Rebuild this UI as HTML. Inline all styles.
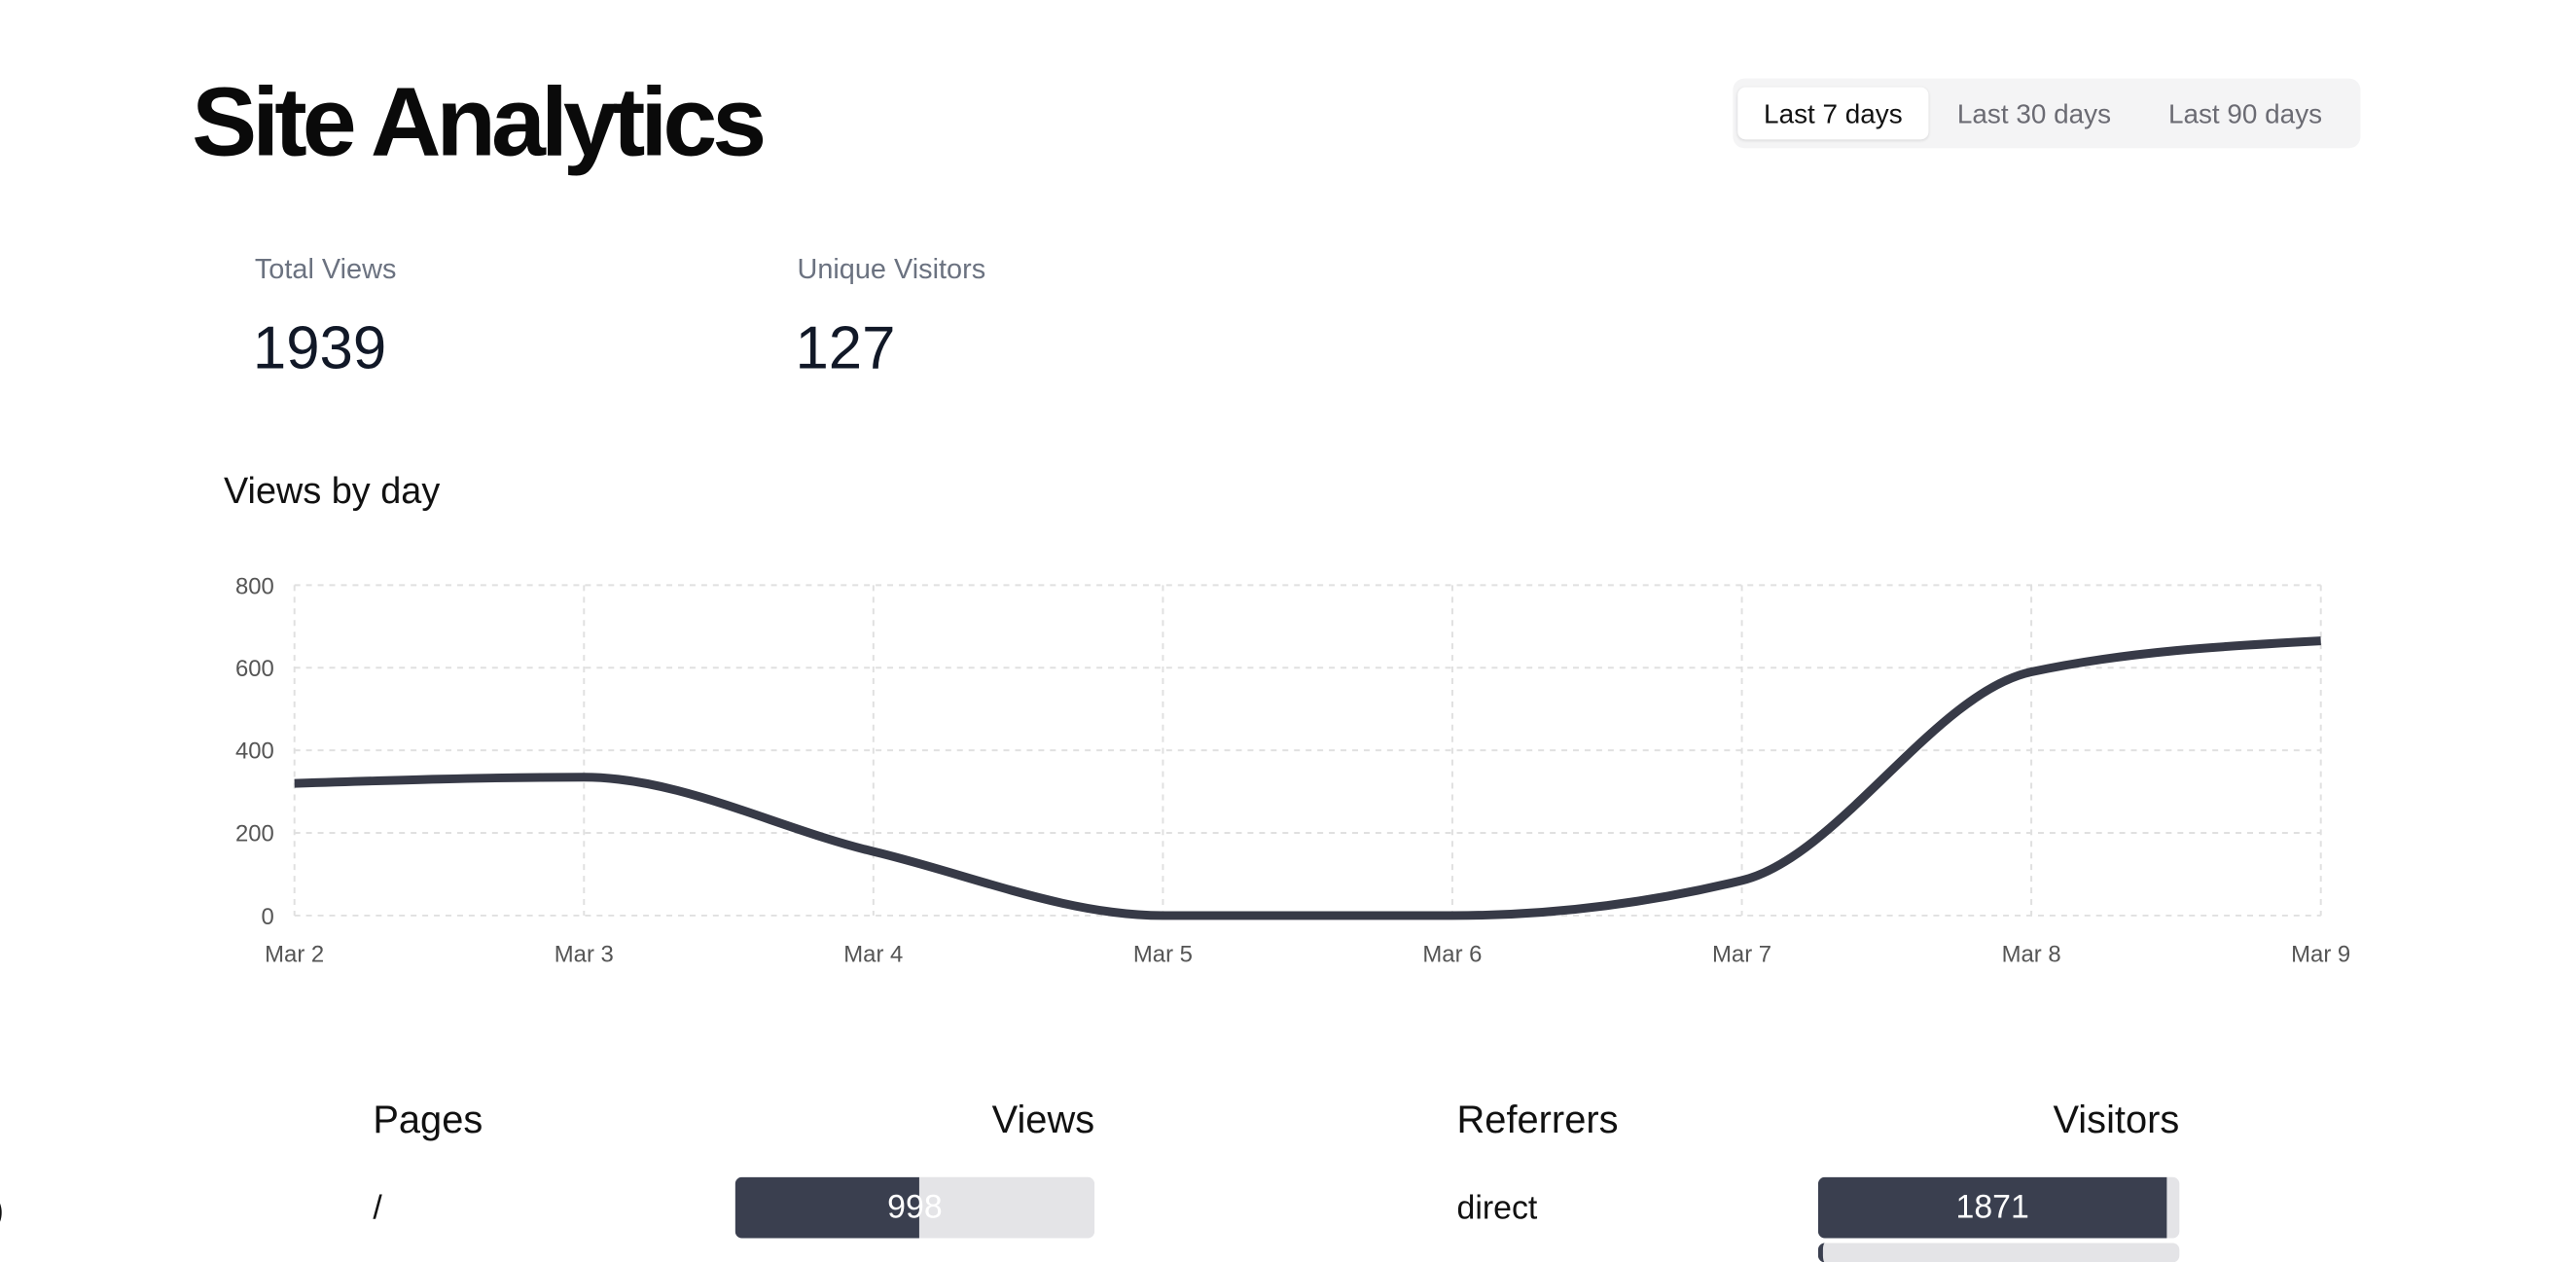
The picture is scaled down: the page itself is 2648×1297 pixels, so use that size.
<!DOCTYPE html>
<html><head><meta charset="utf-8"><style>
*{margin:0;padding:0;box-sizing:border-box}
body{width:2648px;height:1286px;background:#fff;position:relative;overflow:hidden;font-family:"Liberation Sans",Arial,sans-serif}
#w{position:absolute;left:0;top:0;width:2660px;height:1300px;transform:scale(0.9957);transform-origin:0 0}
.a{position:absolute;white-space:nowrap}
</style></head><body><div id="w">
<div class="a" style="left:198px;top:66px;font-size:101px;font-weight:bold;letter-spacing:-5px;color:#0a0a0a;line-height:120px">Site Analytics</div>
<div class="a" style="left:1789px;top:81px;width:648px;height:72px;background:#f4f4f5;border-radius:12px"></div>
<div class="a" style="left:1794px;top:90px;width:197px;height:54px;background:#fff;border-radius:8px;box-shadow:0 1px 3px rgba(0,0,0,.12)"></div>
<div class="a" style="left:1794px;top:91px;width:197px;line-height:54px;text-align:center;font-size:28px;color:#111">Last 7 days</div>
<div class="a" style="left:2000px;top:91px;width:200px;line-height:54px;text-align:center;font-size:28px;color:#6b6b73">Last 30 days</div>
<div class="a" style="left:2218px;top:91px;width:200px;line-height:54px;text-align:center;font-size:28px;color:#6b6b73">Last 90 days</div>
<div class="a" style="left:263px;top:262px;font-size:29px;color:#6b7280">Total Views</div>
<div class="a" style="left:261px;top:324px;font-size:62px;color:#111827">1939</div>
<div class="a" style="left:823px;top:262px;font-size:29px;color:#6b7280">Unique Visitors</div>
<div class="a" style="left:821px;top:324px;font-size:62px;color:#111827">127</div>
<div class="a" style="left:231px;top:486px;font-size:38px;color:#111">Views by day</div>
<svg class="a" style="left:0;top:0" width="2648" height="1286">
<g stroke="#e0e0e0" stroke-width="2" stroke-dasharray="6 6" fill="none">
<line x1="304" y1="604" x2="2396" y2="604"/><line x1="304" y1="689.25" x2="2396" y2="689.25"/><line x1="304" y1="774.5" x2="2396" y2="774.5"/><line x1="304" y1="859.75" x2="2396" y2="859.75"/><line x1="304" y1="945" x2="2396" y2="945"/>
<line x1="304" y1="604" x2="304" y2="945"/><line x1="602.9" y1="604" x2="602.9" y2="945"/><line x1="901.7" y1="604" x2="901.7" y2="945"/><line x1="1200.6" y1="604" x2="1200.6" y2="945"/><line x1="1499.4" y1="604" x2="1499.4" y2="945"/><line x1="1798.3" y1="604" x2="1798.3" y2="945"/><line x1="2097.1" y1="604" x2="2097.1" y2="945"/><line x1="2396" y1="604" x2="2396" y2="945"/>
</g>
<g font-family="Liberation Sans,Arial,sans-serif" font-size="24" fill="#555" text-anchor="end">
<text x="283" y="613">800</text><text x="283" y="698">600</text><text x="283" y="783">400</text><text x="283" y="868">200</text><text x="283" y="954">0</text>
</g>
<g font-family="Liberation Sans,Arial,sans-serif" font-size="24" fill="#555" text-anchor="middle">
<text x="304" y="993">Mar 2</text><text x="602.9" y="993">Mar 3</text><text x="901.7" y="993">Mar 4</text><text x="1200.6" y="993">Mar 5</text><text x="1499.4" y="993">Mar 6</text><text x="1798.3" y="993">Mar 7</text><text x="2097.1" y="993">Mar 8</text><text x="2396" y="993">Mar 9</text>
</g>
<path fill="none" stroke="#373a47" stroke-width="9" d="M304,808.6 C403.6,805.4 503.3,802.2 602.9,802.2 C702.5,802.2 802.1,855.1 901.7,878.9 C1001.3,902.7 1101,945 1200.6,945 C1300.2,945 1399.8,945 1499.4,945 C1599,945 1698.7,933 1798.3,908.8 C1897.9,884.7 1997.5,714.8 2097.1,693.5 C2196.7,672.2 2296.4,666.8 2396,661.5"/>
</svg>
<div class="a" style="left:385px;top:1134px;font-size:40px;color:#111">Pages</div>
<div class="a" style="left:930px;width:200px;text-align:right;top:1134px;font-size:40px;color:#111">Views</div>
<div class="a" style="left:1504px;top:1134px;font-size:40px;color:#111">Referrers</div>
<div class="a" style="left:2050px;width:200px;text-align:right;top:1134px;font-size:40px;color:#111">Visitors</div>
<div class="a" style="left:-8px;top:1228px;font-size:36px;color:#111">)</div>
<div class="a" style="left:385px;top:1228px;font-size:34px;color:#111">/</div>
<div class="a" style="left:759px;top:1215px;width:371px;height:63px;background:#e4e4e7;border-radius:7px;overflow:hidden"><div style="width:190px;height:63px;background:#3a3f4f"></div></div>
<div class="a" style="left:759px;top:1215px;width:371px;line-height:63px;text-align:center;font-size:34px;color:#fff">998</div>
<div class="a" style="left:1504px;top:1228px;font-size:34px;color:#111">direct</div>
<div class="a" style="left:1877px;top:1215px;width:373px;height:63px;background:#e4e4e7;border-radius:7px;overflow:hidden"><div style="width:360px;height:63px;background:#3a3f4f"></div></div>
<div class="a" style="left:1877px;top:1215px;width:360px;line-height:63px;text-align:center;font-size:34px;color:#fff">1871</div>
<div class="a" style="left:1877px;top:1283px;width:373px;height:20px;background:#e4e4e7;border-radius:7px;border-left:5px solid #3a3f4f"></div>
</div></body></html>
